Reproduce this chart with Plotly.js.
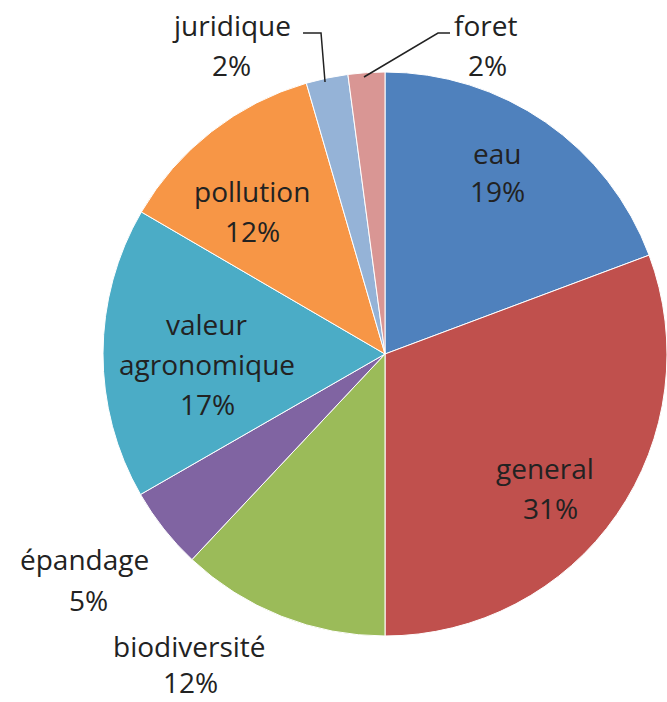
<!DOCTYPE html>
<html>
<head>
<meta charset="utf-8">
<script src="https://cdn.plot.ly/plotly-3.0.1.min.js"></script>
<style>html,body{margin:0;padding:0;background:#fff;}#chart{width:667px;height:702px;}</style>
</head>
<body>
<div id="chart"></div>
<script>
// Data
var categories = ["eau", "general", "biodiversité", "épandage", "valeur agronomique", "pollution", "juridique", "foret"];
var values = [19.3, 30.7, 12.0, 4.7, 16.7, 12.1, 2.4, 2.1];
var colors = ["#4F81BD", "#C0504D", "#9BBB59", "#8064A2", "#4BACC6", "#F79646", "#95B3D7", "#D99694"];

// Label layout (pixel positions of text line centres)
var W = 667, H = 702;
var labelLines = [
  [["eau", 497, 153], ["%", 497, 191]],
  [["general", 545, 468], ["%", 550, 508]],
  [["biodiversité", 189, 646], ["%", 190, 682]],
  [["épandage", 84, 559], ["%", 88, 600]],
  [["valeur", 207, 324], ["agronomique", 207, 364], ["%", 207, 404]],
  [["pollution", 252, 191], ["%", 252, 231]],
  [["juridique", 231, 25], ["%", 231, 65]],
  [["foret", 486, 25], ["%", 487, 65]]
];

var total = values.reduce(function(a, b) { return a + b; }, 0);
var annotations = [];
labelLines.forEach(function(lines, i) {
  lines.forEach(function(l) {
    var txt = l[0] === "%" ? Math.round(values[i] / total * 100) + "%" : l[0];
    annotations.push({
      text: txt, x: l[1] / W, y: 1 - l[2] / H, xref: "paper", yref: "paper",
      xanchor: "center", yanchor: "middle", showarrow: false, borderpad: 0,
      font: {family: "Open Sans", size: 28, color: "#222222"}
    });
  });
});

function px(x, y) { return (x / W).toFixed(4) + "," + (1 - y / H).toFixed(4); }
var shapes = [
  {type: "path", xref: "paper", yref: "paper",
   path: "M" + px(303, 33) + " L" + px(321, 33) + " L" + px(325, 82),
   line: {color: "#222222", width: 1.5}},
  {type: "path", xref: "paper", yref: "paper",
   path: "M" + px(450, 33) + " L" + px(438, 33) + " L" + px(364, 77),
   line: {color: "#222222", width: 1.5}}
];

var cx = 385, cy = 354, r = 282;
var trace = {
  type: "pie",
  labels: categories,
  values: values,
  sort: false,
  direction: "clockwise",
  rotation: 0,
  textinfo: "none",
  hoverinfo: "label+percent",
  marker: {colors: colors, line: {color: "#ffffff", width: 1}},
  domain: {x: [(cx - r) / W, (cx + r) / W], y: [1 - (cy + r) / H, 1 - (cy - r) / H]},
  showlegend: false
};

var layout = {
  width: W, height: H,
  margin: {l: 0, r: 0, t: 0, b: 0},
  paper_bgcolor: "#ffffff",
  showlegend: false,
  annotations: annotations,
  shapes: shapes
};

Plotly.newPlot("chart", [trace], layout, {displayModeBar: false, staticPlot: true});
</script>
</body>
</html>
